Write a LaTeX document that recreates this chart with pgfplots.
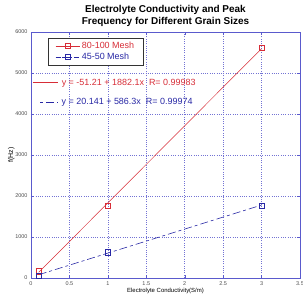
\documentclass[border=0pt]{standalone}
\usepackage{pgfplots}
\pgfplotsset{compat=1.18}
\usepackage{fontspec}
\setmainfont{Liberation Sans}
\definecolor{axblue}{RGB}{90,90,205}
\definecolor{ared}{RGB}{215,45,55}
\definecolor{ablue}{RGB}{40,40,165}
\begin{document}
\begin{tikzpicture}
\begin{axis}[
  at={(0,0)}, anchor=south west,
  scale only axis, width=269bp, height=246bp,
  xmin=0, xmax=3.5, ymin=0, ymax=6000,
  xtick={0,0.5,...,3.5}, ytick={0,1000,...,6000},
  grid=major,
  major grid style={axblue!85, dash pattern=on 1pt off 1.3pt, line width=0.45pt},
  axis line style={axblue, line width=0.8pt},
  tick style={axblue},
  tick align=inside,
  major tick length=3bp,
  ticklabel style={font=\fontsize{5.5}{6}\selectfont, text=black!70},
  /pgf/number format/assume math mode=true,
  scaled y ticks=false,
  yticklabel style={/pgf/number format/1000 sep={}},
  xlabel={Electrolyte Conductivity(S/m)},
  ylabel={f(Hz)},
  xlabel style={font=\fontsize{6}{7}\selectfont, yshift=4bp},
  ylabel style={font=\fontsize{7}{8}\selectfont, yshift=-6bp},
  title={\textbf{Electrolyte Conductivity and Peak}\\\textbf{Frequency for Different Grain Sizes}},
  title style={font=\fontsize{10}{12}\selectfont, align=center, yshift=-4bp},
  legend style={at={(0.063,0.976)}, anchor=north west, draw=black!80, line width=0.6pt,
    font=\fontsize{9}{10}\selectfont, inner xsep=7pt, inner ysep=2pt, row sep=-1pt, cells={anchor=west}},
  legend cell align=left,
  legend image code/.code={
    \draw[mark repeat=2, mark phase=2, #1] plot coordinates {(0bp,0bp) (12bp,0bp) (24bp,0bp)};},
]
\addlegendimage{ared, line width=0.5pt, mark=square, mark size=2.5bp}
\addlegendentry{\textcolor{ared}{80-100 Mesh}}
\addlegendimage{ablue, line width=0.6pt, dash pattern=on 5pt off 2pt on 10pt off 2pt, mark=square, mark size=2.5bp, mark options={solid}}
\addlegendentry{\textcolor{ablue}{45-50 Mesh}}
\addplot[ared, line width=0.5pt, forget plot] coordinates {(0.1,137) (1,1831) (3,5595)};
\addplot[ablue, line width=0.6pt, dash pattern=on 8pt off 3pt on 3pt off 3pt, forget plot] coordinates {(0.1,79) (1,607) (3,1779)};
\addplot[only marks, ared, mark=square, mark size=2.8bp, forget plot] coordinates {(0.1,170) (1,1765) (3,5620)};
\addplot[only marks, ablue, mark=square, mark size=2.8bp, forget plot] coordinates {(0.1,60) (1,625) (3,1760)};
\node[anchor=west, inner sep=0pt, font=\fontsize{9}{10}\selectfont, text=ared] at (rel axis cs:0.004,0.793)
  {\tikz[baseline=-2.5pt]\draw[ared, line width=0.5pt] (0,0)--(25bp,0);\hspace{4bp}y = -51.21 + 1882.1x\hspace{5bp}R= 0.99983};
\node[anchor=west, inner sep=0pt, font=\fontsize{9}{10}\selectfont, text=ablue] at (rel axis cs:0.033,0.715)
  {\tikz[baseline=-2.5pt]\draw[ablue, line width=0.6pt, dash pattern=on 3pt off 3pt on 8pt off 3pt] (0,0)--(17bp,0);\hspace{4bp}y = 20.141 + 586.3x\hspace{5bp}R= 0.99974};
\end{axis}
\pgfresetboundingbox
\useasboundingbox (-31bp,-25bp) rectangle (272bp,278bp);
\end{tikzpicture}
\end{document}
